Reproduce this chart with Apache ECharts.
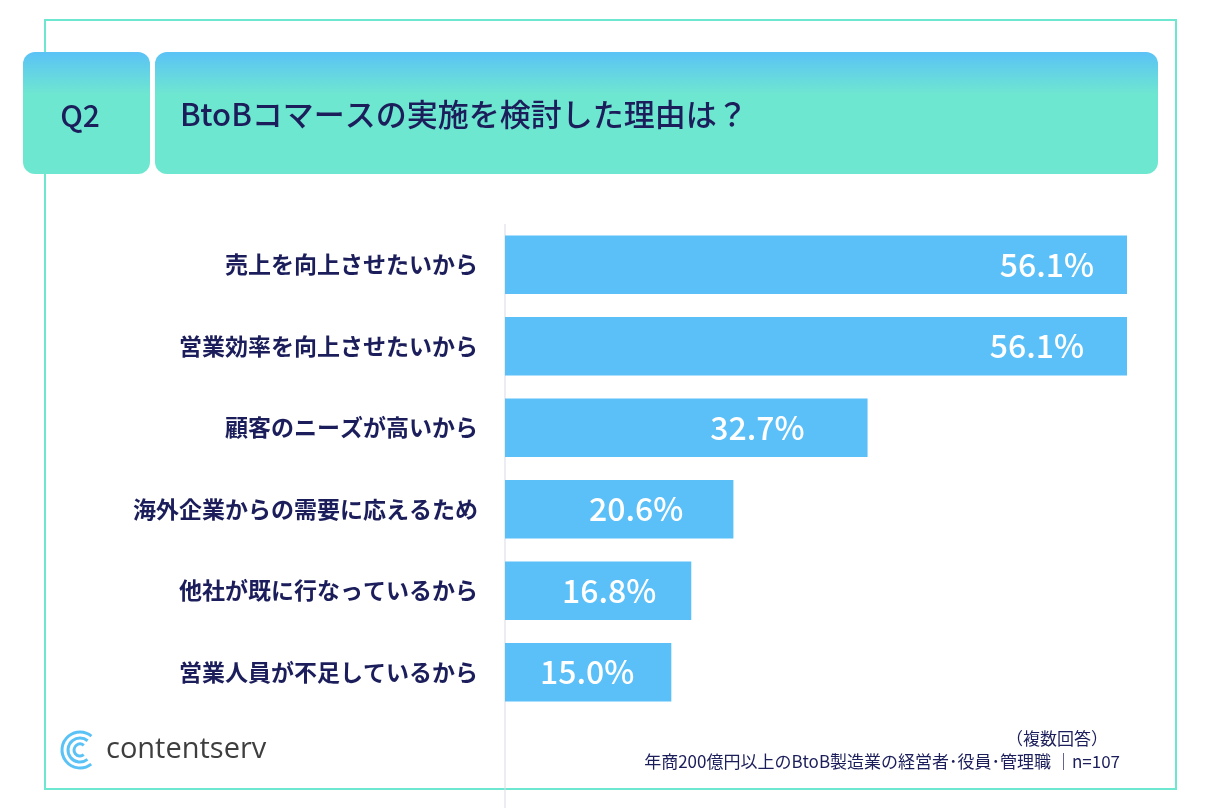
<!DOCTYPE html>
<html><head><meta charset="utf-8">
<script src="https://cdn.jsdelivr.net/npm/echarts@6/dist/echarts.min.js"></script>
<style>html,body{margin:0;padding:0;background:#fff}#c{width:1222px;height:808px}</style>
</head><body><div id="c"></div>
<script>
const categories = ['売上を向上させたいから','営業効率を向上させたいから','顧客のニーズが高いから','海外企業からの需要に応えるため','他社が既に行なっているから','営業人員が不足しているから'];
const values = [56.1, 56.1, 32.7, 20.6, 16.8, 15.0];
const labelOffsets = [-28, -38, -58, -45, -30, -32];
const font = '"Noto Sans CJK JP", sans-serif';
const navy = '#1b1e5a';
const chart = echarts.init(document.getElementById('c'));
const grad = new echarts.graphic.LinearGradient(0,0,0,1,[{offset:0,color:'#5bc2f6'},{offset:0.35,color:'#6ee7d0'},{offset:1,color:'#6ee7d0'}]);
chart.setOption({
  animation:false,
  grid:{left:505,right:95,top:224,bottom:95},
  xAxis:{type:'value',min:0,max:56.1,show:false},
  yAxis:{type:'category',inverse:true,data:categories,
    axisLine:{show:false},axisTick:{show:false},
    axisLabel:{margin:27,color:navy,fontSize:23,fontWeight:'bold',fontFamily:font}},
  series:[{type:'bar',barCategoryGap:'28%',
    data:values.map((v,i)=>({value:v,label:{offset:[labelOffsets[i],0]}})),
    itemStyle:{color:'#5bbff8'},
    label:{show:true,position:'insideRight',color:'#fff',fontSize:32,fontWeight:500,fontFamily:font,formatter:p=>p.value.toFixed(1)+'%'}}],
  graphic:[
    {type:'rect',shape:{x:45,y:20,width:1131,height:769},style:{fill:'none',stroke:'#6ee7d0',lineWidth:2},z:-10},
    {type:'line',shape:{x1:505,y1:224,x2:505,y2:808},style:{stroke:'#d8dbe6',lineWidth:1},z:-5},
    {type:'rect',shape:{x:23,y:52,width:127,height:122,r:12},style:{fill:grad}},
    {type:'rect',shape:{x:155,y:52,width:1003,height:122,r:12},style:{fill:grad}},
    {type:'text',x:80,y:116,style:{text:'Q2',font:'500 30px '+font,fill:navy,align:'center',verticalAlign:'middle'}},
    {type:'text',x:180,y:114,style:{text:'BtoBコマースの実施を検討した理由は？',font:'500 31px '+font,fill:navy,align:'left',verticalAlign:'middle'}},
    {type:'arc',shape:{cx:80,cy:750,r:18,startAngle:0.9,endAngle:5.4},style:{stroke:'#5bc2f6',lineWidth:3,fill:'none'}},
    {type:'arc',shape:{cx:80,cy:750,r:12,startAngle:0.9,endAngle:5.4},style:{stroke:'#5bc2f6',lineWidth:3,fill:'none'}},
    {type:'arc',shape:{cx:80,cy:750,r:6,startAngle:0.9,endAngle:5.4},style:{stroke:'#5bc2f6',lineWidth:3,fill:'none'}},
    {type:'text',x:106,y:750,style:{text:'contentserv',font:'29px "Open Sans", sans-serif',fill:'#3e3e3e',align:'left',verticalAlign:'middle'}},
    {type:'text',x:1108,y:739,style:{text:'（複数回答）',font:'17px '+font,fill:navy,align:'right',verticalAlign:'middle'}},
    {type:'text',x:1120,y:762,style:{text:'年商200億円以上のBtoB製造業の経営者･役員･管理職 ｜n=107',font:'17px '+font,fill:navy,align:'right',verticalAlign:'middle'}}
  ]
});
</script></body></html>
